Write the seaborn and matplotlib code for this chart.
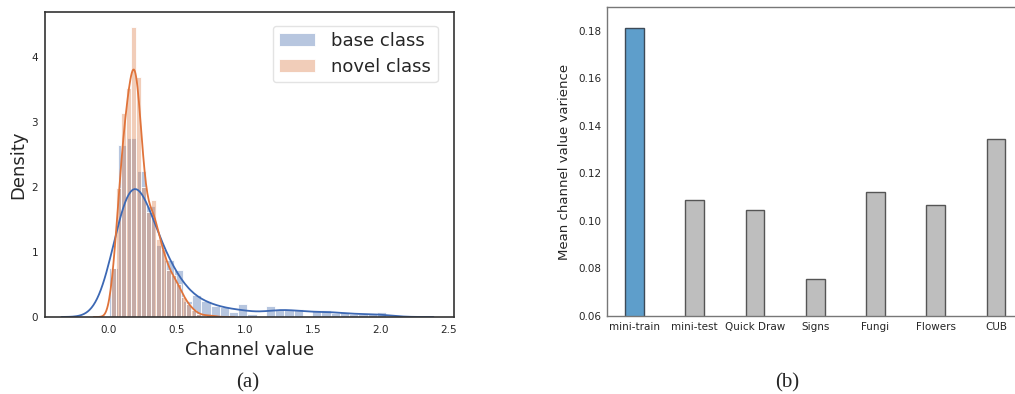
import numpy as np
import pandas as pd
import matplotlib
matplotlib.use("Agg")
import matplotlib.pyplot as plt
import seaborn as sns

# ---------------- data: panel (a) ----------------
# base class histogram (density), bin edges start / width
base_edge0 = 0.0
base_width = 0.068
base_heights = [0.75, 2.65, 2.75, 2.24, 1.70, 1.10, 0.88, 0.72, 0.24, 0.34,
                0.24, 0.17, 0.15, 0.07, 0.20, 0.04, 0.00, 0.17, 0.12, 0.12,
                0.13, 0.02, 0.10, 0.11, 0.06, 0.07, 0.04, 0.04, 0.04, 0.08]
# novel class histogram (density)
novel_edge0 = 0.019
novel_width = 0.0368
novel_heights = [0.75, 1.98, 3.14, 3.52, 4.46, 3.69, 2.00, 1.62, 1.80, 1.20,
                 1.05, 0.72, 0.65, 0.50, 0.30, 0.20, 0.10, 0.05, 0.02, 0.03,
                 0.02]
hist_labels = ["base class", "novel class"]

# ---------------- data: panel (b) ----------------
datasets = ["mini-train", "mini-test", "Quick Draw", "Signs", "Fungi", "Flowers", "CUB"]
variances = [0.181, 0.109, 0.1045, 0.0755, 0.112, 0.1065, 0.1345]

sns.set_theme(style="white")
plt.rcParams["font.family"] = ["DejaVu Sans"]

W, H = 1015, 394
fig = plt.figure(figsize=(W / 100, H / 100), dpi=100)

deep = sns.color_palette("deep")
blue, orange = deep[0], deep[1]

# ---------- panel (a) ----------
ax1 = fig.add_axes([45 / W, 1 - 317 / H, (454 - 45) / W, (317 - 12) / H])

def make_df(edge0, width, heights):
    n = len(heights)
    centers = edge0 + width * (np.arange(n) + 0.5)
    return pd.DataFrame({"x": centers, "w": heights}), (edge0, edge0 + width * n)

base_df, base_range = make_df(base_edge0, base_width, base_heights)
novel_df, novel_range = make_df(novel_edge0, novel_width, novel_heights)

sns.histplot(data=base_df, x="x", weights="w", binwidth=base_width,
             binrange=base_range, stat="count",
             color=blue, alpha=0.4, edgecolor="white", linewidth=0.6, ax=ax1,
             label=hist_labels[0])
sns.histplot(data=novel_df, x="x", weights="w", binwidth=novel_width,
             binrange=novel_range, stat="count",
             color=orange, alpha=0.4, edgecolor="white", linewidth=0.6, ax=ax1,
             label=hist_labels[1])
sns.kdeplot(data=base_df, x="x", weights="w", bw_adjust=0.42, cut=3,
            color="#3c68b4", linewidth=1.3, ax=ax1)
sns.kdeplot(data=novel_df, x="x", weights="w", bw_adjust=0.40, cut=3,
            color="#e0733a", linewidth=1.3, ax=ax1)

ax1.set_xlim(-0.47, 2.54)
ax1.set_ylim(0, 4.69)
ax1.set_xticks([0.0, 0.5, 1.0, 1.5, 2.0, 2.5])
ax1.set_yticks([0, 1, 2, 3, 4])
ax1.tick_params(axis="x", labelsize=7.5, length=0, pad=6, colors="#262626")
ax1.tick_params(axis="y", labelsize=7.5, length=0, pad=5, colors="#262626")
ax1.set_xlabel("Channel value", fontsize=13, labelpad=4)
ax1.set_ylabel("Density", fontsize=13, labelpad=3)
for s in ax1.spines.values():
    s.set_color("#333333")
    s.set_linewidth(1.2)
leg = ax1.legend(loc="upper right", fontsize=13, frameon=True,
                 handlelength=2.0, handleheight=0.7, borderpad=0.35,
                 labelspacing=0.45, handletextpad=0.9,
                 bbox_to_anchor=(0.982, 0.985))
leg.get_frame().set_edgecolor("#dddddd")

# ---------- panel (b) ----------
ax2 = fig.add_axes([607 / W, 1 - 316 / H, (1023.5 - 607) / W, (316 - 7) / H])
bdf = pd.DataFrame({"dataset": datasets, "variance": variances})
bar_colors = ["#5e9ecb"] + ["#bebebe"] * (len(datasets) - 1)
sns.barplot(data=bdf, x="dataset", y="variance", hue="dataset",
            palette=bar_colors, legend=False, width=0.31, saturation=1,
            ax=ax2)
for i, p in enumerate(ax2.patches):
    p.set_edgecolor("#3d4a57" if i == 0 else "#555555")
    p.set_linewidth(1.0)
ax2.set_ylim(0.06, 0.19)
ax2.set_xlim(-0.456, 6.456)
ax2.set_yticks([0.06, 0.08, 0.10, 0.12, 0.14, 0.16, 0.18])
ax2.set_yticklabels([f"{v:.2f}" for v in [0.06, 0.08, 0.10, 0.12, 0.14, 0.16, 0.18]])
ax2.tick_params(axis="both", labelsize=7.5, length=0, pad=4, colors="#262626")
ax2.set_xlabel("")
ax2.set_ylabel("Mean channel value varience", fontsize=9.5, labelpad=5)
for s in ax2.spines.values():
    s.set_color("#777777")
    s.set_linewidth(1.0)

# captions
fig.text(248 / W, 1 - 383 / H, "(a)", ha="center", va="center",
         fontsize=15, family="Liberation Serif")
fig.text(787 / W, 1 - 383 / H, "(b)", ha="center", va="center",
         fontsize=15, family="Liberation Serif")

fig.savefig("out.png", dpi=100)
